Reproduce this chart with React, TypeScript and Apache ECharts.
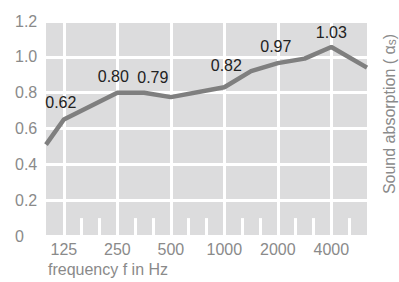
import React, { useEffect, useRef } from "react";
import * as echarts from "echarts";

// Third-octave band centres (Hz); the x axis position is the band index
const bands = ["100", "125", "160", "200", "250", "315", "400", "500", "630", "800", "1000", "1250", "1600", "2000", "2500", "3150", "4000", "5000", "6300"];
const octaveLabels = ["125", "250", "500", "1000", "2000", "4000"];
const minorTicks = ["160", "200", "315", "400", "630", "800", "1250", "1600", "2500", "3150", "5000"];

// Absorption curve (x = band index, y = alpha_s)
const curveBand = [0, 1, 4, 5.5, 7, 10, 11.5, 13, 14.5, 16, 18];
const curveAlpha = [0.51, 0.65, 0.8, 0.8, 0.775, 0.83, 0.92, 0.965, 0.99, 1.055, 0.94];
const pointLabels = ["", "0.62", "0.80", "", "0.79", "0.82", "", "0.97", "", "1.03", ""];
const labelOffsets: number[][] = [[0, 0], [-3, -9], [-4, -8], [0, 0], [-18, -12], [2, -14], [0, 0], [-2, -9], [0, 0], [0, -6], [0, 0]];

const yTicks = [0, 0.2, 0.4, 0.6, 0.8, 1.0, 1.2];
const minorTickHeight = 0.1;

const AXIS_GREY = "#8a8a8a";
const FONT = "Liberation Sans, Arial, sans-serif";

export default function App() {
  const ref = useRef<HTMLDivElement>(null);
  useEffect(() => {
    document.body.style.margin = "0";
    const chart = echarts.init(ref.current!, null, { renderer: "svg" });
    const idx = (f: string) => bands.indexOf(f);
    const lineData = curveBand.map((b, i) => ({
      value: [b, curveAlpha[i]],
      label: pointLabels[i]
        ? { show: true, formatter: pointLabels[i], position: "top", distance: 0, offset: labelOffsets[i] }
        : { show: false },
    }));
    chart.setOption({
      animation: false,
      textStyle: { fontFamily: FONT },
      grid: { left: 46, right: 32, top: 21, bottom: 46, show: true, backgroundColor: "#dcdcdd", borderWidth: 0 },
      xAxis: {
        type: "value",
        min: 0,
        max: bands.length - 1,
        axisLine: { show: false },
        axisTick: { show: false },
        splitLine: { show: false },
        axisLabel: {
          customValues: octaveLabels.map(idx),
          formatter: (v: number) => bands[Math.round(v)],
          color: AXIS_GREY,
          fontSize: 16,
          margin: 5,
          fontFamily: FONT,
        },
      },
      yAxis: {
        type: "value",
        min: yTicks[0],
        max: yTicks[yTicks.length - 1],
        interval: 0.2,
        axisLine: { show: false },
        axisTick: { show: false },
        axisLabel: {
          color: AXIS_GREY,
          fontSize: 16,
          align: "left",
          margin: 31,
          padding: [0, 0, 6, 0],
          fontFamily: FONT,
          formatter: (v: number) => (v === 0 ? "0" : v.toFixed(1)),
        },
        splitLine: { lineStyle: { color: "#ffffff", width: 3 } },
      },
      graphic: [
        {
          type: "text",
          left: 48,
          top: 261,
          style: { text: "frequency f in Hz", fontSize: 16, fill: AXIS_GREY, fontFamily: FONT },
        },
        {
          type: "text",
          x: 389,
          y: 114,
          rotation: Math.PI / 2,
          style: {
            text: "Sound absorption ( α{sub|s})",
            fontSize: 16,
            fill: AXIS_GREY,
            fontFamily: FONT,
            align: "center",
            verticalAlign: "middle",
            rich: {
              sub: { fontSize: 12, fill: AXIS_GREY, fontFamily: FONT, padding: [6, 0, 0, 0] },
            },
          },
        },
      ],
      series: [
        {
          type: "line",
          z: 1,
          data: [],
          silent: true,
          markLine: {
            z: 1,
            silent: true,
            symbol: ["none", "none"],
            label: { show: false },
            lineStyle: { color: "#ffffff", width: 3, type: "solid" },
            data: [
              ...octaveLabels.map((f) => ({ xAxis: idx(f) })),
              ...minorTicks.map((f) => [
                { coord: [idx(f), 0] },
                { coord: [idx(f), minorTickHeight] },
              ]),
            ],
          },
        },
        {
          type: "line",
          z: 3,
          data: lineData,
          symbol: "circle",
          symbolSize: 0,
          showSymbol: true,
          lineStyle: { color: "#7f7f7f", width: 4.5 },
          itemStyle: { color: "#7f7f7f" },
          label: { color: "#222222", fontSize: 16, fontFamily: FONT },
        },
      ],
    });
    return () => chart.dispose();
  }, []);
  return <div ref={ref} style={{ width: 399, height: 282 }} />;
}
